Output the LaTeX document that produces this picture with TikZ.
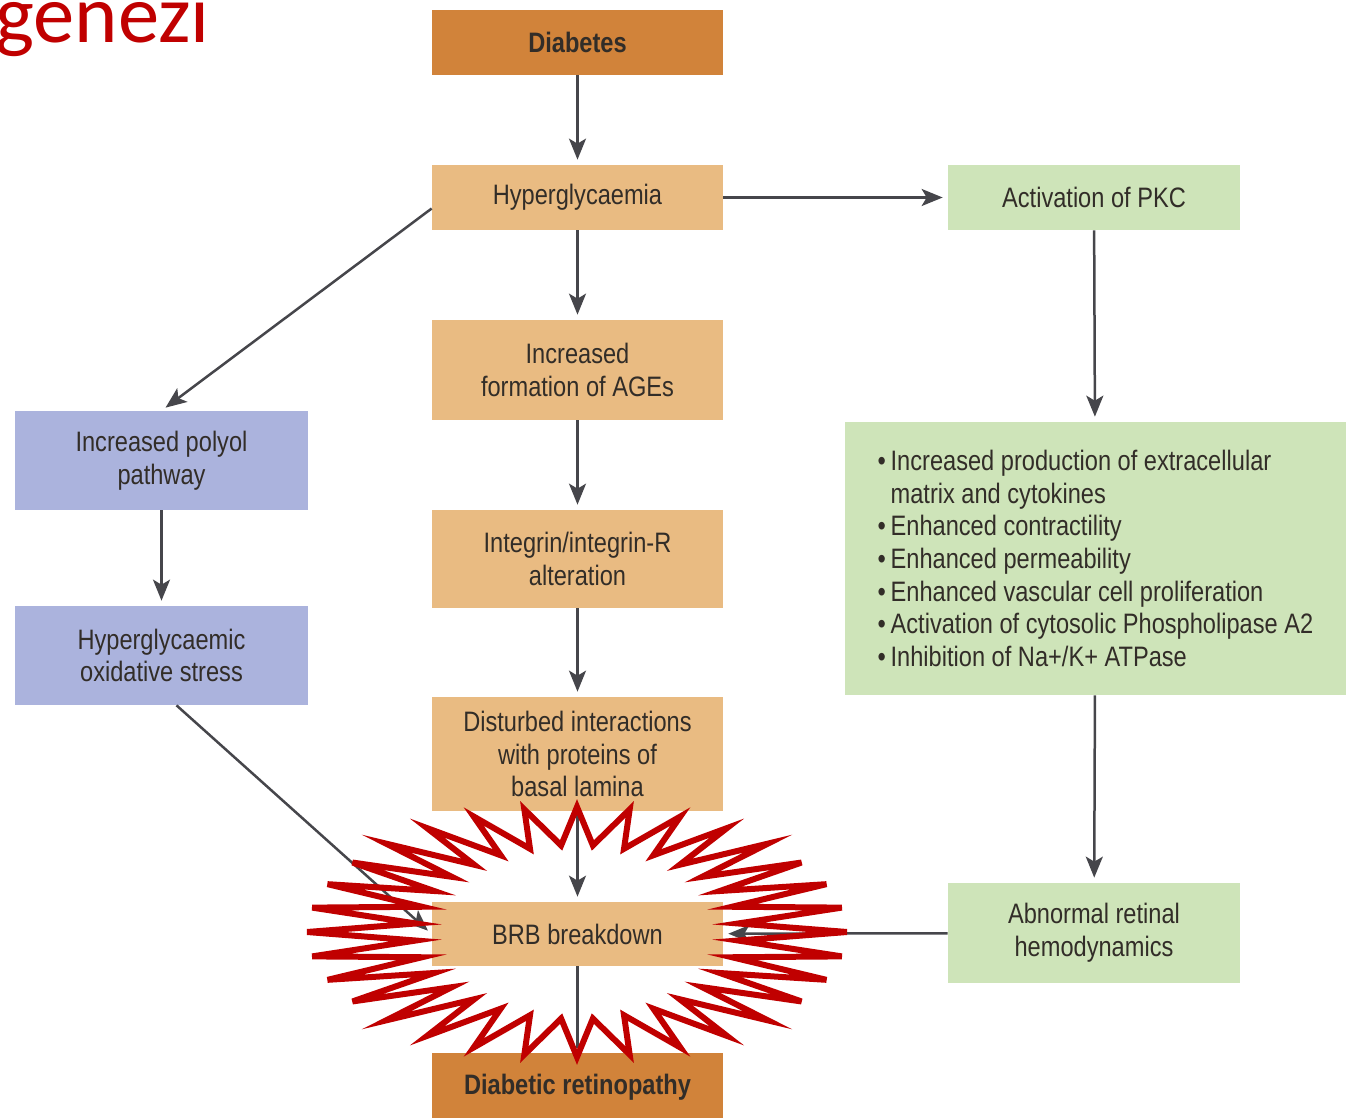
\documentclass[tikz,border=0pt]{standalone}
\usepackage{fontspec}
\setmainfont[FakeStretch=0.84]{Liberation Sans}
\newfontfamily\titlefont{Carlito}
\usepackage{tikz}
\usetikzlibrary{arrows.meta}

\definecolor{deeporange}{RGB}{209,131,58}
\definecolor{paleorange}{RGB}{233,187,130}
\definecolor{palegreen}{RGB}{206,228,185}
\definecolor{paleblue}{RGB}{171,179,221}
\definecolor{boxtext}{RGB}{50,45,40}
\definecolor{arrowgray}{RGB}{70,70,75}
\definecolor{burstred}{RGB}{192,0,0}

\begin{document}
\begin{tikzpicture}[x=0.02cm, y=-0.02cm,
  >={Stealth[length=0.42cm, width=0.34cm, inset=0.1cm]},
  every node/.style={font=\fontsize{16}{18.6}\selectfont},
  block/.style={rectangle, minimum width=5.82cm, minimum height=1.3cm, align=center, inner sep=2pt, text=boxtext},
  cause/.style={block, fill=deeporange, font=\fontsize{16}{18.6}\selectfont\bfseries},
  stage/.style={block, fill=paleorange},
  pkcbox/.style={block, fill=palegreen},
  polyolbox/.style={block, fill=paleblue, minimum width=5.86cm, minimum height=1.98cm},
  link/.style={->, line width=0.05cm, draw=arrowgray, shorten >=0.1cm},
  burst/.style={draw=burstred, line width=0.12cm, line join=miter}
]
\useasboundingbox (0,0) rectangle (1353,1118);

% Title fragment (cut by the page edge)
\node[anchor=base west, inner sep=0pt, text=burstred, font=\titlefont\fontsize{47}{47}\selectfont] (title) at (-5,43) {genezi};

% Centre column
\node[cause] (diab) at (577.5,42.5) {Diabetes};
\node[stage] (hyper) at (577.5,197.5) {Hyperglycaemia};
\node[stage, minimum height=2cm] (ages) at (577.5,370) {Increased\\formation of AGEs};
\node[stage, minimum height=1.96cm] (integ) at (577.5,559) {Integrin/integrin-R\\alteration};
\node[stage, minimum height=2.28cm] (disturb) at (577.5,754) {Disturbed interactions\\with proteins of\\basal lamina};
\node[stage, minimum height=1.28cm] (brb) at (577.5,934) {BRB breakdown};
\node[cause, minimum height=1.36cm] (retino) at (577.5,1087) {Diabetic retinopathy};

% Left column
\node[polyolbox] (polyol) at (161.5,460.5) {Increased polyol\\pathway};
\node[polyolbox] (stress) at (161.5,655.5) {Hyperglycaemic\\oxidative stress};

% Right column
\node[pkcbox, minimum width=5.84cm] (pkc) at (1094,197.5) {Activation of PKC};
\node[pkcbox, minimum width=10.02cm, minimum height=5.46cm, align=left] (effects) at (1095.5,558.5)
  {\textbullet\,Increased production of extracellular\\
   \phantom{\textbullet\,}matrix and cytokines\\
   \textbullet\,Enhanced contractility\\
   \textbullet\,Enhanced permeability\\
   \textbullet\,Enhanced vascular cell proliferation\\
   \textbullet\,Activation of cytosolic Phospholipase A2\\
   \textbullet\,Inhibition of Na+/K+ ATPase};
\node[pkcbox, minimum width=5.84cm, minimum height=2cm] (abnormal) at (1094,933) {Abnormal retinal\\hemodynamics};

% Arrows - centre column
\draw[link] (diab) -- (hyper);
\draw[link] (hyper) -- (ages);
\draw[link] (ages) -- (integ);
\draw[link] (integ) -- (disturb);
\draw[link] (disturb) -- (brb);
\draw[link, -] (brb) -- (retino);

% Arrows - left branch
\draw[link] ([yshift=-0.22cm]hyper.west) -- (polyol.north);
\draw[link] (polyol) -- (stress);
\draw[link] ([xshift=0.3cm]stress.south) -- (brb.west);

% Arrows - right branch
\draw[link] (hyper) -- (pkc);
\draw[link] (pkc) -- (effects);
\draw[link] (effects) -- (abnormal);
\draw[link] (abnormal) -- (brb);

% Starburst round BRB breakdown
\draw[burst] (577+270,932)
  \foreach \i in {1,...,32} {
    -- ({577+162*cos(\i*11.25-5.625)},{932+87*sin(\i*11.25-5.625)})
    -- ({577+270*cos(\i*11.25)},{932+125*sin(\i*11.25)})
  } -- cycle;

\end{tikzpicture}
\end{document}
